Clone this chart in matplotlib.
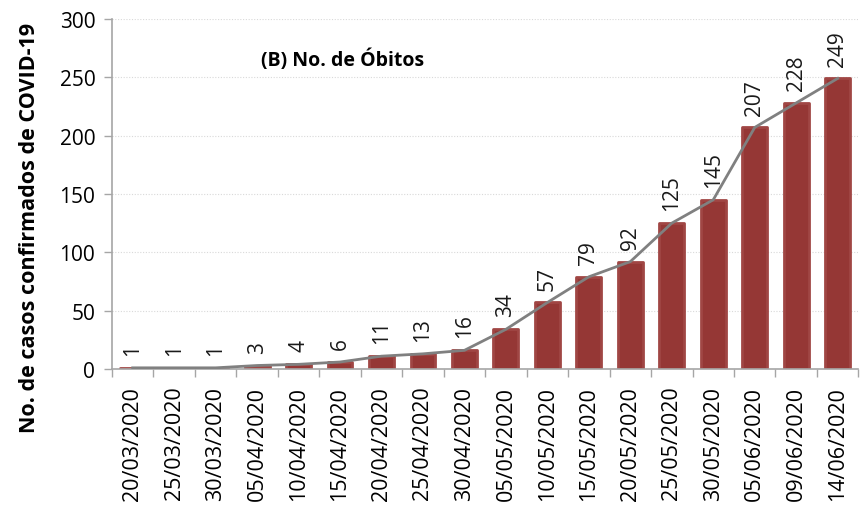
import numpy as np
import matplotlib
matplotlib.use("Agg")
import matplotlib.pyplot as plt

plt.rcParams["font.family"] = ["Open Sans", "DejaVu Sans"]

# dates and number of deaths
dates = ["20/03/2020", "25/03/2020", "30/03/2020", "05/04/2020", "10/04/2020",
         "15/04/2020", "20/04/2020", "25/04/2020", "30/04/2020", "05/05/2020",
         "10/05/2020", "15/05/2020", "20/05/2020", "25/05/2020", "30/05/2020",
         "05/06/2020", "09/06/2020", "14/06/2020"]
obitos = [1, 1, 1, 3, 4, 6, 11, 13, 16, 34, 57, 79, 92, 125, 145, 207, 228, 249]
y_ticks = [0, 50, 100, 150, 200, 250, 300]

bar_color = "#953735"
line_color = "#808080"
axis_color = "#a6a6a6"

fig = plt.figure(figsize=(8.61, 5.10), dpi=100)
ax = fig.add_axes([0.130, 0.2745, 0.867, 0.6865])

x = np.arange(len(dates))
ax.bar(x, obitos, width=0.6, color=bar_color, edgecolor="#a04644", linewidth=2.0,
       joinstyle="round", zorder=2)
ax.plot(x, obitos, color=line_color, linewidth=2, zorder=3)

for xi, v in zip(x, obitos):
    ax.text(xi, v + 11, str(v), rotation=90, ha="center", va="bottom",
            fontsize=15, color="#1a1a1a", zorder=4)

ax.set_xlim(-0.5, len(dates) - 0.5)
ax.set_ylim(0, 300)
ax.set_yticks(y_ticks)
ax.set_xticks(x)
ax.set_xticklabels(dates, rotation=90, fontsize=15.5)
ax.set_xticks(np.arange(-0.5, len(dates), 1), minor=True)
ax.tick_params(axis="x", which="major", length=0, pad=12)
ax.tick_params(axis="x", which="minor", length=6, color=axis_color, width=1)
ax.tick_params(axis="y", labelsize=15, length=6, color=axis_color, width=1, pad=6)

ax.yaxis.grid(True, linestyle=(0, (1, 1.5)), color="#d9d9d9", linewidth=0.8, zorder=0)
ax.set_axisbelow(True)

for side in ["top", "right"]:
    ax.spines[side].set_visible(False)
for side in ["left", "bottom"]:
    ax.spines[side].set_color(axis_color)
    ax.spines[side].set_linewidth(1.2)

ax.set_ylabel("No. de casos confirmados de COVID-19", fontsize=15.5, fontweight="bold")
ax.yaxis.set_label_coords(-0.096, 0.405)

ax.text(0.2, 0.885, "(B) No. de Óbitos", transform=ax.transAxes, fontsize=14,
        fontweight="bold", ha="left", va="center")

fig.savefig("out.png", dpi=100)
